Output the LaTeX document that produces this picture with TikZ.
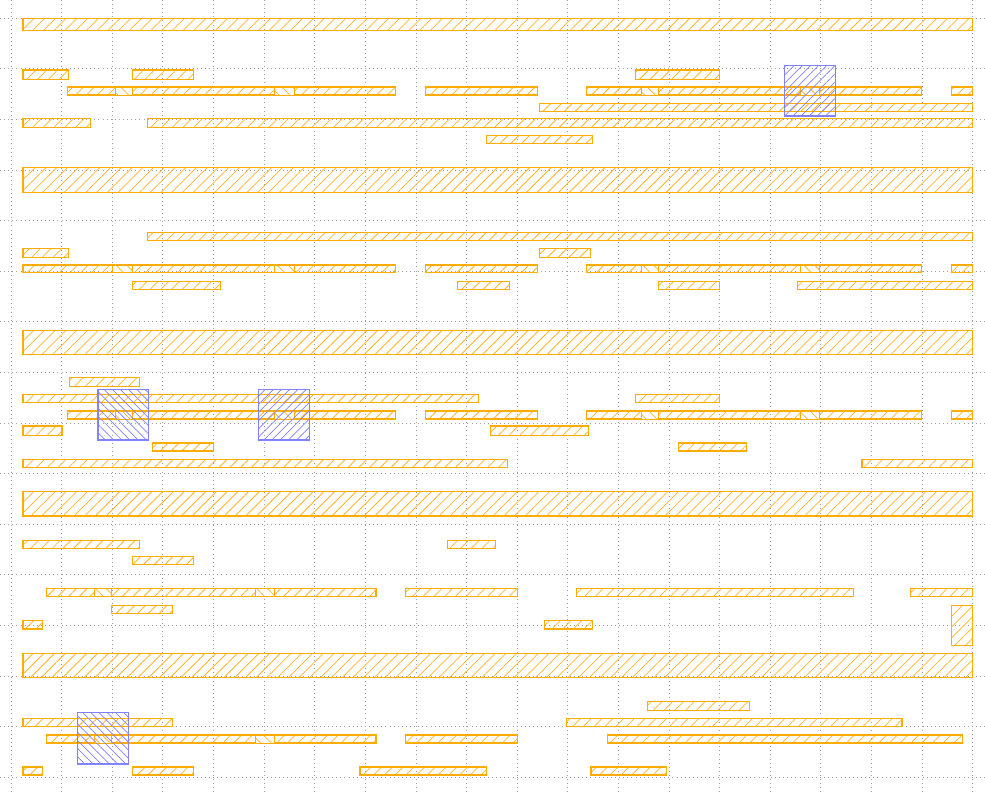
\documentclass[tikz,border=0pt]{standalone}
\usetikzlibrary{patterns.meta}
\definecolor{orgline}{RGB}{255,172,0}
\definecolor{orghatch}{RGB}{255,180,40}
\definecolor{bluline}{RGB}{130,130,255}
\definecolor{gridc}{RGB}{160,160,160}
\tikzset{
  gridline/.style={gridc, line width=0.9pt, dash pattern=on 0.9pt off 3.2pt},
  metal/.style={draw=orgline, line width=1.2pt, pattern={Lines[angle=45,distance=7.6pt,line width=0.75pt]}, pattern color=orghatch},
  cutbox/.style={draw=orgline, line width=0.9pt, pattern={Lines[angle=-45,distance=7.6pt,line width=0.75pt]}, pattern color=orghatch},
  viane/.style={draw=bluline, line width=1.1pt, pattern={Lines[angle=45,distance=5.8pt,line width=0.7pt]}, pattern color=bluline},
  vianw/.style={draw=bluline, line width=1.1pt, pattern={Lines[angle=-45,distance=5.8pt,line width=0.7pt]}, pattern color=bluline}
}
\newcommand{\mrect}[4]{\draw[metal] (#1,#2) rectangle (#3,#4);}
\newcommand{\crect}[4]{\fill[white] (#1,#2) rectangle (#3,#4); \draw[cutbox] (#1,#2) rectangle (#3,#4);}
\begin{document}
\begin{tikzpicture}[x=1pt,y=-1pt]
\useasboundingbox (0,0) rectangle (985,794);
% grid
\foreach \k in {0,...,19} \draw[gridline] ({11+50.62*\k},0) -- ({11+50.62*\k},794);
\foreach \k in {0,...,15} \draw[gridline] (0,{18.3+50.6*\k}) -- (985,{18.3+50.6*\k});
% rails
\mrect{23}{18.3}{972.7}{30.7}
\mrect{23}{167.7}{972.7}{192.3}
\mrect{23}{330.3}{972.7}{354.7}
\mrect{23}{491.7}{972.7}{516}
\mrect{23}{653.3}{972.7}{677.3}
% section 1
\mrect{23}{70}{68.7}{79.3}
\mrect{132.3}{70}{193.3}{79.3}
\mrect{635.7}{70}{719.3}{79.3}
\mrect{67.3}{87}{395.7}{95}
\crect{115}{87}{132.7}{95}
\crect{274}{87}{294}{95}
\mrect{425.3}{87}{537.3}{95}
\mrect{586.7}{87}{921.7}{95}
\crect{641}{87}{658}{95}
\crect{800.3}{87}{819.7}{95}
\mrect{951.7}{87}{972.7}{95}
\mrect{539.3}{103.7}{972.7}{111.3}
\mrect{23}{118.7}{90.7}{127.3}
\mrect{147.7}{118.7}{972.7}{127.3}
\mrect{486.3}{135.3}{592.3}{143.3}
% section 2
\mrect{147.7}{232.7}{972.7}{240.7}
\mrect{23}{248.3}{68.7}{257.3}
\mrect{539.3}{248.3}{590.3}{257.3}
\mrect{23}{265}{395.7}{272.7}
\crect{112}{265}{132.7}{272.7}
\crect{274}{265}{294}{272.7}
\mrect{425.3}{265}{537.3}{272.7}
\mrect{586.7}{265}{921.7}{272.7}
\crect{641}{265}{658}{272.7}
\crect{800.3}{265}{819.7}{272.7}
\mrect{951.7}{265}{972.7}{272.7}
\mrect{132.3}{281.7}{220.3}{289.3}
\mrect{457.3}{281.7}{509.3}{289.3}
\mrect{658.3}{281.7}{719.3}{289.3}
\mrect{797.7}{281.7}{972.7}{289.3}
% section 3
\mrect{69.3}{377.7}{139.3}{386.7}
\mrect{23}{394.3}{478.7}{402.3}
\mrect{635.7}{394.3}{719.3}{402.3}
\mrect{67.3}{411}{395.7}{419}
\crect{115}{411}{132.7}{419}
\crect{274}{411}{294}{419}
\mrect{425.3}{411}{537.3}{419}
\mrect{586.7}{411}{921.7}{419}
\crect{641}{411}{658}{419}
\crect{800.3}{411}{819.7}{419}
\mrect{951.7}{411}{972.7}{419}
\mrect{23}{426}{62}{435.7}
\mrect{490.3}{426}{588.3}{435.7}
\mrect{152.3}{443}{213.3}{451}
\mrect{678.3}{443}{746.3}{451}
\mrect{23}{459.3}{507.7}{467.3}
\mrect{862}{459.3}{972.7}{467.3}
% section 4
\mrect{23}{540.3}{139.3}{548.3}
\mrect{447.3}{540.3}{495.7}{548.3}
\mrect{132.3}{556.7}{193.3}{564.7}
\mrect{46.3}{588.7}{376}{596.7}
\crect{94}{588.7}{111.3}{596.7}
\crect{255}{588.7}{274}{596.7}
\mrect{405.3}{588.7}{517.7}{596.7}
\mrect{576.7}{588.7}{853.7}{596.7}
\mrect{910.3}{588.7}{972.7}{596.7}
\mrect{111.3}{605.3}{172.7}{613.3}
\mrect{23}{620.7}{42.3}{629}
\mrect{544.3}{620.7}{592.7}{629}
\mrect{951.3}{605.3}{972.7}{645.7}
% section 5
\mrect{647.3}{701.7}{749.7}{710.7}
\mrect{23}{718.3}{172.7}{726.3}
\mrect{566.7}{718.3}{902}{726.3}
\mrect{46.3}{735}{376}{743}
\crect{94}{735}{111.3}{743}
\crect{255}{735}{274}{743}
\mrect{405.3}{735}{517.7}{743}
\mrect{607.3}{735}{962.3}{743}
\mrect{23}{767}{42.3}{775}
\mrect{132.3}{767}{193.3}{775}
\mrect{360}{767}{486.7}{775}
\mrect{591}{767}{666.7}{775}
% vias
\draw[viane] (784.3,65.7) rectangle (835.7,116);
\draw[vianw] (98,389.7) rectangle (148.3,440);
\draw[viane] (258.3,389.7) rectangle (309.7,440);
\draw[vianw] (77.3,712.7) rectangle (128.3,764);
\end{tikzpicture}
\end{document}
